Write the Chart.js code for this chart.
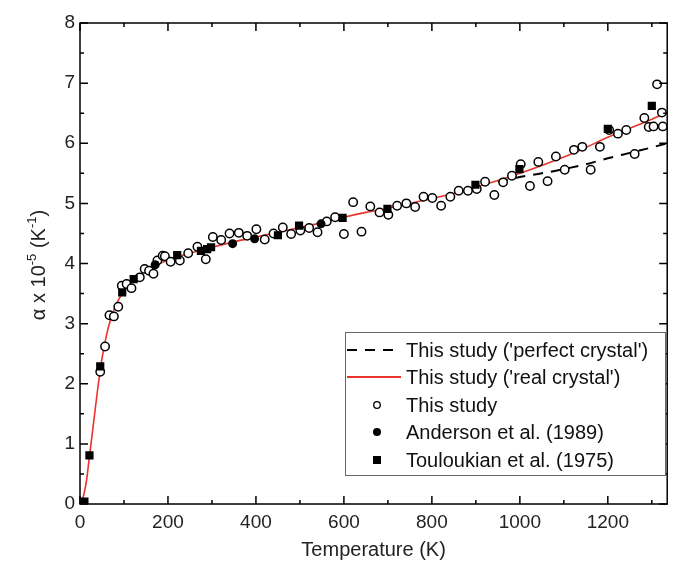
<!DOCTYPE html>
<html>
<head>
<meta charset="utf-8">
<script src="https://cdn.jsdelivr.net/npm/chart.js@4.4.0/dist/chart.umd.min.js"></script>
<style>
  html,body{margin:0;padding:0;background:#fff}
  canvas{display:block}
</style>
</head>
<body>
<canvas id="chart" width="673" height="564"></canvas>
<script>
// --- data ---
const thisStudyT = [46,57,67,77,87,95,106,117,136,147,157,167,176,188,193,206,227,246,267,286,302,321,340,361,380,401,420,
  440,461,480,501,521,540,561,580,600,621,640,660,681,701,721,742,762,781,
  801,821,842,861,882,902,921,942,962,982,1002,1023,1042,1063,1082,1102,1123,1142,1161,1182,
  1203,1223,1242,1261,1283,1293,1304,1312,1323,1325];
const thisStudyA = [2.2,2.62,3.14,3.12,3.28,3.63,3.66,3.59,3.77,3.91,3.88,3.83,4.05,4.13,4.12,4.03,4.05,4.17,4.28,4.07,4.44,4.39,4.5,4.51,4.46,4.57,4.4,
  4.5,4.6,4.49,4.55,4.59,4.52,4.7,4.77,4.49,5.02,4.53,4.95,4.85,4.81,4.96,5.0,4.94,5.11,
  5.09,4.96,5.11,5.21,5.21,5.24,5.36,5.14,5.35,5.46,5.65,5.29,5.69,5.37,5.78,5.56,5.89,5.94,5.56,5.94,
  6.22,6.16,6.22,5.82,6.42,6.27,6.28,6.98,6.51,6.28];

const andersonT = [8,171,347,397,548];
const andersonA = [0.03,3.98,4.33,4.41,4.66];

const touloukianT = [10,21.5,46,96,122,221,275,289,298,450,498,597,699,899,999,1200,1300];
const touloukianA = [0.04,0.81,2.29,3.52,3.74,4.14,4.21,4.24,4.27,4.47,4.63,4.76,4.91,5.31,5.57,6.24,6.62];

const realT = [5,10,15,20,30,40,50,60,70,80,90,100,125,150,175,200,250,300,350,400,450,500,550,600,650,700,750,800,850,900,950,1000,1050,1100,1150,1200,1250,1300,1340];
const realA = [0.05,0.2,0.4,0.7,1.3,1.9,2.42,2.8,3.08,3.28,3.43,3.55,3.75,3.88,3.98,4.06,4.17,4.27,4.36,4.44,4.52,4.6,4.68,4.77,4.85,4.92,5.0,5.08,5.17,5.27,5.38,5.5,5.63,5.77,5.93,6.1,6.25,6.4,6.53];

const perfectT = [950,1000,1050,1100,1150,1200,1250,1300,1340];
const perfectA = [5.36,5.44,5.5,5.57,5.65,5.75,5.84,5.93,6.01];

const xTickLabels = [0,200,400,600,800,1000,1200];
const yTickLabels = [0,1,2,3,4,5,6,7,8];

const labels = ["This study ('perfect crystal')","This study ('real crystal')","This study","Anderson et al. (1989)","Touloukian et al. (1975)"];

const pts = (xs,ys) => xs.map((x,i)=>({x:x,y:ys[i]}));
const FONT = "'Liberation Sans', Arial, sans-serif";
const RED = '#e8342c';

// frame with inward ticks on all four sides
const framePlugin = {
  id:'frame',
  afterDatasetsDraw(chart){
    const {ctx, chartArea:a, scales:{x,y}} = chart;
    ctx.save();
    ctx.strokeStyle='#000';
    ctx.lineWidth=1.5;
    ctx.strokeRect(a.left,a.top,a.right-a.left,a.bottom-a.top);
    ctx.beginPath();
    for(let v=0; v<=1300; v+=100){
      const px=x.getPixelForValue(v), len = v%200===0 ? 8 : 4;
      ctx.moveTo(px,a.bottom); ctx.lineTo(px,a.bottom-len);
      ctx.moveTo(px,a.top); ctx.lineTo(px,a.top+len);
    }
    for(let v=0; v<=8; v+=0.5){
      const py=y.getPixelForValue(v), len = v%1===0 ? 8 : 4;
      ctx.moveTo(a.left,py); ctx.lineTo(a.left+len,py);
      ctx.moveTo(a.right,py); ctx.lineTo(a.right-len,py);
    }
    ctx.stroke();
    ctx.restore();
  }
};

// y title with superscripts + legend box
const extrasPlugin = {
  id:'extras',
  afterDraw(chart){
    const ctx = chart.ctx;
    ctx.save();
    // y axis title
    const parts = [['α x 10',20,0],['-5',13,8],[' (K',20,0],['-1',13,8],[')',20,0]];
    let total=0;
    parts.forEach(p=>{ctx.font=p[1]+'px '+FONT; total+=ctx.measureText(p[0]).width;});
    ctx.translate(39,265);
    ctx.rotate(-Math.PI/2);
    ctx.fillStyle='#222';
    ctx.textBaseline='middle';
    let cx=-total/2;
    parts.forEach(p=>{
      ctx.font=p[1]+'px '+FONT;
      ctx.fillText(p[0],cx,-p[2]+ (p[1]<20?1:0));
      cx+=ctx.measureText(p[0]).width;
    });
    ctx.restore();

    // legend
    ctx.save();
    const bx=345.5, by=332.5, bw=320, bh=143;
    ctx.fillStyle='#fff';
    ctx.fillRect(bx,by,bw,bh);
    ctx.strokeStyle='#666'; ctx.lineWidth=1;
    ctx.strokeRect(bx,by,bw,bh);
    const rows=[350,377,405,432,460];
    ctx.font='20px '+FONT;
    ctx.fillStyle='#111';
    ctx.textBaseline='middle';
    labels.forEach((t,i)=>ctx.fillText(t,406,rows[i]+1));
    ctx.lineWidth=2;
    ctx.strokeStyle='#000';
    ctx.setLineDash([10,8]);
    ctx.beginPath(); ctx.moveTo(347,rows[0]); ctx.lineTo(401,rows[0]); ctx.stroke();
    ctx.setLineDash([]);
    ctx.strokeStyle=RED; ctx.lineWidth=1.8;
    ctx.beginPath(); ctx.moveTo(347,rows[1]); ctx.lineTo(401,rows[1]); ctx.stroke();
    ctx.strokeStyle='#000'; ctx.lineWidth=1.3; ctx.fillStyle='#fff';
    ctx.beginPath(); ctx.arc(377,rows[2],3.3,0,Math.PI*2); ctx.fill(); ctx.stroke();
    ctx.fillStyle='#000';
    ctx.beginPath(); ctx.arc(377,rows[3],4,0,Math.PI*2); ctx.fill();
    ctx.fillRect(373,rows[4]-4,8,8);
    ctx.restore();
  }
};

new Chart(document.getElementById('chart'), {
  type:'scatter',
  data:{
    datasets:[
      {label:labels[2], data:pts(thisStudyT,thisStudyA), pointStyle:'circle', pointRadius:4.2, pointBorderWidth:1.5,
        pointBorderColor:'#000', pointBackgroundColor:'#fff', order:1},
      {label:labels[3], data:pts(andersonT,andersonA), pointStyle:'circle', pointRadius:4.5, pointBorderWidth:0,
        pointBackgroundColor:'#000', pointBorderColor:'#000', order:0},
      {label:labels[4], data:pts(touloukianT,touloukianA), pointStyle:'rect', pointRadius:5.8, pointBorderWidth:0,
        pointBackgroundColor:'#000', pointBorderColor:'#000', order:0},
      {label:labels[1], data:pts(realT,realA), showLine:true, borderColor:RED, borderWidth:1.6, pointRadius:0,
        cubicInterpolationMode:'monotone', order:2},
      {label:labels[0], data:pts(perfectT,perfectA), showLine:true, borderColor:'#000', borderWidth:2, borderDash:[10,8],
        pointRadius:0, cubicInterpolationMode:'monotone', order:3}
    ]
  },
  options:{
    responsive:false,
    animation:false,
    layout:{padding:{left:0,top:23,right:3,bottom:0}},
    plugins:{legend:{display:false}, tooltip:{enabled:false}},
    scales:{
      x:{
        type:'linear', min:0, max:1335,
        grid:{display:false, drawTicks:false}, border:{display:false},
        afterBuildTicks:s=>{s.ticks=xTickLabels.map(v=>({value:v}));},
        afterFit:s=>{s.height=60; s.paddingLeft=0; s.paddingRight=0;},
        ticks:{font:{family:FONT,size:19}, color:'#222', padding:7, maxRotation:0, callback:v=>String(v)},
        title:{display:true, text:'Temperature (K)', font:{family:FONT,size:20}, color:'#222', padding:{top:0,bottom:2}}
      },
      y:{
        type:'linear', min:0, max:8,
        grid:{display:false, drawTicks:false}, border:{display:false},
        afterBuildTicks:s=>{s.ticks=yTickLabels.map(v=>({value:v}));},
        afterFit:s=>{s.width=80; s.paddingTop=0; s.paddingBottom=0;},
        ticks:{font:{family:FONT,size:19}, color:'#222', padding:5, callback:v=>String(v)}
      }
    }
  },
  plugins:[framePlugin, extrasPlugin]
});
</script>
</body>
</html>
